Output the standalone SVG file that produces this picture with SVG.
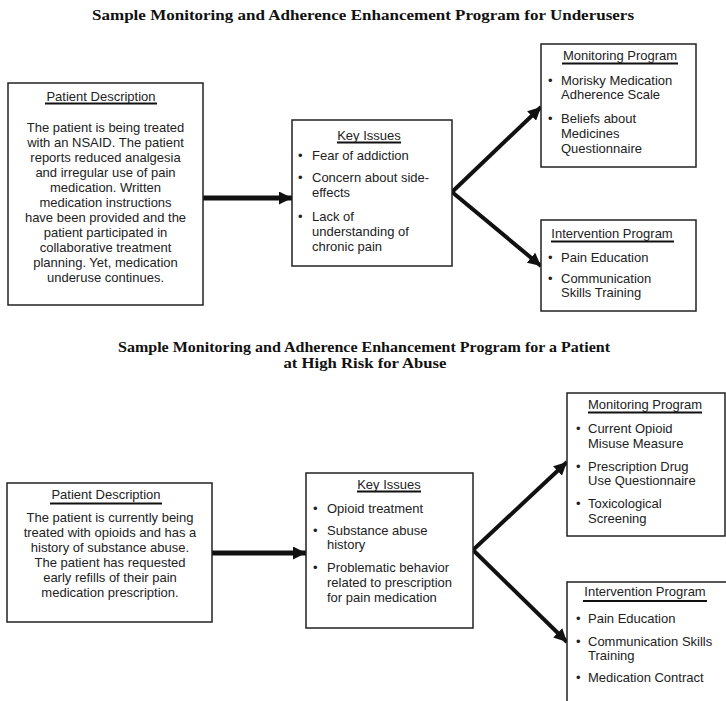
<svg xmlns="http://www.w3.org/2000/svg" width="726" height="701" viewBox="0 0 726 701">
<style>
.box{fill:#fff;stroke:#222;stroke-width:1.5}
.t{font-family:"Liberation Sans",Arial,sans-serif;font-size:13px;fill:#222}
.c{text-anchor:middle}
.ul{stroke:#111;stroke-width:2}
.title{font-family:"Liberation Serif","Times New Roman",serif;font-weight:bold;font-size:15px;fill:#111;text-anchor:middle}
.arr{stroke:#111;fill:none}
</style>
<defs>
<marker id="ah" viewBox="0 0 10 10" refX="10" refY="5" markerWidth="13" markerHeight="13" markerUnits="userSpaceOnUse" orient="auto">
<path d="M0,0 L10,5 L0,10 z" fill="#111"/>
</marker>
</defs>
<rect width="726" height="701" fill="#fff"/>
<text class="title" x="363" y="20" textLength="542" lengthAdjust="spacingAndGlyphs">Sample Monitoring and Adherence Enhancement Program for Underusers</text>
<text class="title" x="364" y="352" font-size="14.5" textLength="492" lengthAdjust="spacingAndGlyphs">Sample Monitoring and Adherence Enhancement Program for a Patient</text>
<text class="title" x="365" y="368" font-size="14.5" textLength="163" lengthAdjust="spacingAndGlyphs">at High Risk for Abuse</text>

<g id="connectors">
<line class="arr" x1="203" y1="198" x2="292" y2="198" stroke-width="5" marker-end="url(#ah)"/>
<line class="arr" x1="452" y1="192" x2="541" y2="107" stroke-width="4" marker-end="url(#ah)"/>
<line class="arr" x1="452" y1="192" x2="541" y2="266" stroke-width="4" marker-end="url(#ah)"/>
<line class="arr" x1="212" y1="553" x2="306" y2="553" stroke-width="5" marker-end="url(#ah)"/>
<line class="arr" x1="473" y1="550" x2="567" y2="462" stroke-width="4" marker-end="url(#ah)"/>
<line class="arr" x1="473" y1="550" x2="567" y2="642" stroke-width="4" marker-end="url(#ah)"/>
</g>

<g id="patient1">
<rect class="box" x="8" y="83" width="195" height="222"/>
<text class="t c" x="101" y="101">Patient Description</text>
<line class="ul" x1="45" y1="103.5" x2="157" y2="103.5"/>
<text class="t c" x="105.5" y="132">The patient is being treated</text>
<text class="t c" x="105.5" y="147">with an NSAID. The patient</text>
<text class="t c" x="105.5" y="162">reports reduced analgesia</text>
<text class="t c" x="105.5" y="177">and irregular use of pain</text>
<text class="t c" x="105.5" y="192">medication. Written</text>
<text class="t c" x="105.5" y="207">medication instructions</text>
<text class="t c" x="105.5" y="222">have been provided and the</text>
<text class="t c" x="105.5" y="237">patient participated in</text>
<text class="t c" x="105.5" y="252">collaborative treatment</text>
<text class="t c" x="105.5" y="267">planning. Yet, medication</text>
<text class="t c" x="105.5" y="282">underuse continues.</text>
</g>

<g id="keyissues1">
<rect class="box" x="292" y="120" width="160" height="146"/>
<text class="t c" x="369" y="140">Key Issues</text>
<line class="ul" x1="337" y1="142.5" x2="401" y2="142.5"/>
<text class="t" x="298" y="160">•</text><text class="t" x="312" y="160">Fear of addiction</text>
<text class="t" x="298" y="182">•</text><text class="t" x="312" y="182">Concern about side-</text>
<text class="t" x="312" y="197">effects</text>
<text class="t" x="298" y="221">•</text><text class="t" x="312" y="221">Lack of</text>
<text class="t" x="312" y="236">understanding of</text>
<text class="t" x="312" y="251">chronic pain</text>
</g>

<g id="monitoring1">
<rect class="box" x="541" y="44" width="155" height="123"/>
<text class="t c" x="620" y="60">Monitoring Program</text>
<line class="ul" x1="562" y1="63.5" x2="678" y2="63.5"/>
<text class="t" x="548" y="85">•</text><text class="t" x="561" y="85">Morisky Medication</text>
<text class="t" x="561" y="99">Adherence Scale</text>
<text class="t" x="548" y="123">•</text><text class="t" x="561" y="123">Beliefs about</text>
<text class="t" x="561" y="138">Medicines</text>
<text class="t" x="561" y="153">Questionnaire</text>
</g>

<g id="intervention1">
<rect class="box" x="541" y="220" width="155" height="91"/>
<text class="t c" x="612" y="238">Intervention Program</text>
<line class="ul" x1="551" y1="241.5" x2="674" y2="241.5"/>
<text class="t" x="548" y="262">•</text><text class="t" x="561" y="262">Pain Education</text>
<text class="t" x="548" y="283">•</text><text class="t" x="561" y="283">Communication</text>
<text class="t" x="561" y="297">Skills Training</text>
</g>

<g id="patient2">
<rect class="box" x="7" y="483" width="205" height="139"/>
<text class="t c" x="106" y="499">Patient Description</text>
<line class="ul" x1="50" y1="503.5" x2="162" y2="503.5"/>
<text class="t c" x="110" y="522">The patient is currently being</text>
<text class="t c" x="110" y="537">treated with opioids and has a</text>
<text class="t c" x="110" y="552">history of substance abuse.</text>
<text class="t c" x="110" y="567">The patient has requested</text>
<text class="t c" x="110" y="582">early refills of their pain</text>
<text class="t c" x="110" y="597">medication prescription.</text>
</g>

<g id="keyissues2">
<rect class="box" x="306" y="473" width="167" height="155"/>
<text class="t c" x="389" y="489">Key Issues</text>
<line class="ul" x1="357" y1="491.5" x2="421" y2="491.5"/>
<text class="t" x="313" y="513">•</text><text class="t" x="327" y="513">Opioid treatment</text>
<text class="t" x="313" y="535">•</text><text class="t" x="327" y="535">Substance abuse</text>
<text class="t" x="327" y="549">history</text>
<text class="t" x="313" y="572">•</text><text class="t" x="327" y="572">Problematic behavior</text>
<text class="t" x="327" y="587">related to prescription</text>
<text class="t" x="327" y="602">for pain medication</text>
</g>

<g id="monitoring2">
<rect class="box" x="567" y="393" width="158" height="143"/>
<text class="t c" x="645" y="409">Monitoring Program</text>
<line class="ul" x1="588" y1="412.5" x2="702" y2="412.5"/>
<text class="t" x="576" y="433">•</text><text class="t" x="588" y="433">Current Opioid</text>
<text class="t" x="588" y="448">Misuse Measure</text>
<text class="t" x="576" y="471">•</text><text class="t" x="588" y="471">Prescription Drug</text>
<text class="t" x="588" y="485">Use Questionnaire</text>
<text class="t" x="576" y="508">•</text><text class="t" x="588" y="508">Toxicological</text>
<text class="t" x="588" y="523">Screening</text>
</g>

<g id="intervention2">
<rect class="box" x="567" y="582" width="170" height="130"/>
<text class="t c" x="645" y="596">Intervention Program</text>
<line class="ul" x1="583" y1="601" x2="707" y2="601"/>
<text class="t" x="576" y="623">•</text><text class="t" x="588" y="623">Pain Education</text>
<text class="t" x="576" y="646">•</text><text class="t" x="588" y="646">Communication Skills</text>
<text class="t" x="588" y="660">Training</text>
<text class="t" x="576" y="682">•</text><text class="t" x="588" y="682">Medication Contract</text>
</g>
</svg>
